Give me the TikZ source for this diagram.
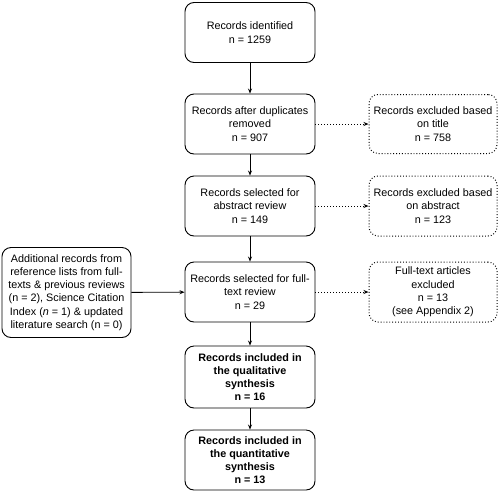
\documentclass[tikz,border=0pt]{standalone}
\usepackage{fontspec}
\setmainfont{Liberation Sans}
\usetikzlibrary{arrows.meta}
\begin{document}
\begin{tikzpicture}[x=1pt,y=-1pt,
  box/.style={draw=black, line width=0.9pt, rounded corners=9pt, align=center,
    font=\fontsize{10.8}{13.2}\selectfont, inner sep=2pt},
  mainbox/.style={box, minimum width=130pt},
  sidebox/.style={box, minimum width=128pt, dotted, line width=1pt},
  boldbox/.style={mainbox, font=\fontsize{10.8}{13.2}\selectfont\bfseries},
  arr/.style={line width=0.9pt, -{Stealth[length=5pt,width=4pt]}},
  darr/.style={line width=1pt, dotted, -{Stealth[length=5pt,width=4pt]}}
]
\useasboundingbox (0,0) rectangle (500,493);
\node[mainbox, minimum height=60pt] (b1) at (250,32.5) {Records identified\\[1pt]n = 1259};
\node[mainbox, minimum height=60pt] (b2) at (250,124) {Records after duplicates\\removed\\n = 907};
\node[mainbox, minimum height=60pt] (b3) at (250,206) {Records selected for\\abstract review\\n = 149};
\node[mainbox, minimum height=60pt] (b4) at (250,292) {Records selected for full-\\text review\\n = 29};
\node[boldbox, minimum height=62pt] (b5) at (250,377) {Records included in\\the qualitative\\synthesis\\n = 16};
\node[boldbox, minimum height=60pt] (b6) at (250,460) {Records included in\\the quantitative\\synthesis\\n = 13};
\node[sidebox, minimum height=59pt] (r1) at (433,124) {Records excluded based\\on title\\n = 758};
\node[sidebox, minimum height=60pt] (r2) at (433,206) {Records excluded based\\on abstract\\n = 123};
\node[sidebox, minimum height=60pt] (r3) at (433,292) {Full-text articles\\excluded\\n = 13\\(see Appendix 2)};
\node[box, minimum width=129pt, minimum height=90pt] (l1) at (66.5,292.5) {Additional records from\\reference lists from full-\\texts \& previous reviews\\(n = 2), Science Citation\\Index (\textit{n} = 1) \& updated\\literature search (n = 0)};
\draw[arr] (b1) -- (b2);
\draw[arr] (b2) -- (b3);
\draw[arr] (b3) -- (b4);
\draw[arr] (b4) -- (b5);
\draw[arr] (b5) -- (b6);
\draw[darr] (b2) -- (r1);
\draw[darr] (b3) -- (r2);
\draw[darr] (b4) -- (r3);
\draw[arr] (l1) -- (b4);
\end{tikzpicture}
\end{document}
